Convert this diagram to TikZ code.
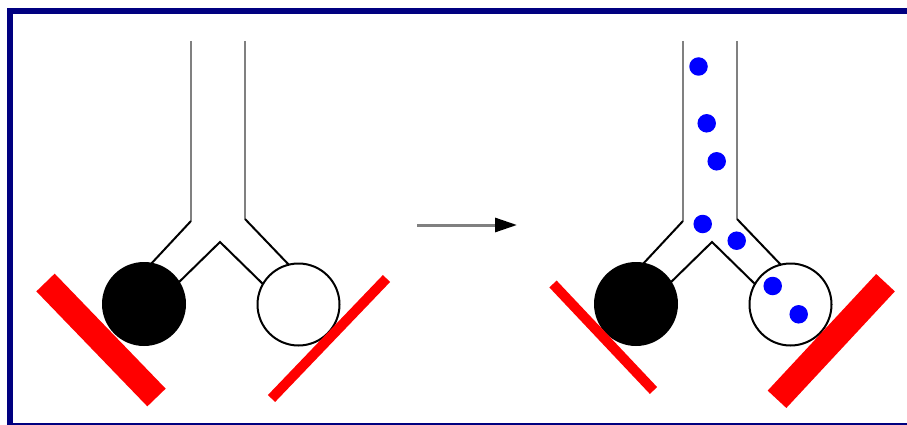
\documentclass[tikz,border=0pt]{standalone}
\usetikzlibrary{arrows.meta}
\definecolor{framenavy}{RGB}{0,0,128}
\begin{document}
\begin{tikzpicture}[x=1pt,y=-1pt,
  wall/.style={draw=black!50, line width=2.6pt},
  edge/.style={draw=black, line width=2pt},
  bead/.style={circle, fill=blue, inner sep=0pt, minimum size=18.5pt},
  thinpad/.style={draw=red, line width=10pt},
  thickpad/.style={draw=red, line width=25.5pt},
  fullbulb/.style={circle, fill=black, inner sep=0pt, minimum size=84pt},
  emptybulb/.style={circle, draw=black, fill=white, line width=2pt, inner sep=0pt, minimum size=82pt},
]
\useasboundingbox (0,0) rectangle (907,425);
\fill[white] (0,0) rectangle (907,425);

% outer frame, open on the right and bottom
\begin{scope}
  \clip (0,0) rectangle (907,425);
  \draw[framenavy, line width=6pt] (10,11) rectangle (960,426);
\end{scope}

% ---- Y tube before ----
\draw[wall] (191,41) -- (191,221);
\draw[wall] (245,41) -- (245,219);
\draw[edge] (191,221) -- (150,265);
\draw[edge] (175,286) -- (220,242) -- (266,287);
\draw[edge] (245,219) -- (290,266);
\node[fullbulb]  (bulbAL) at (144,304) {};
\node[emptybulb] (bulbAR) at (298.5,304.5) {};
\draw[thickpad] (45.5,282.5) -- (156.5,397.5);
\draw[thinpad]  (271.5,398.5) -- (386.5,278.5);

% ---- reaction arrow ----
\coordinate (arrS) at (417,225);
\coordinate (arrE) at (517,225);
\draw[draw=black!50, line width=3pt, -{Triangle[length=22pt,width=14pt,color=black]}] (arrS) -- (arrE);

% ---- Y tube after ----
\begin{scope}[xshift=492]
  \draw[wall] (191,41) -- (191,221);
  \draw[wall] (245,41) -- (245,219);
  \draw[edge] (191,221) -- (150,265);
  \draw[edge] (175,286) -- (220,242) -- (266,287);
  \draw[edge] (245,219) -- (290,266);
  \node[fullbulb]  (bulbBL) at (144,304) {};
  \node[emptybulb] (bulbBR) at (298.5,304.5) {};
\end{scope}
\draw[thinpad]  (553,284) -- (653.5,390.5);
\draw[thickpad] (885.5,282.7) -- (777,399.3);

% particles moving into the right bulb
\node[bead] (p1) at (698.5,66.5) {};
\node[bead] (p2) at (706.7,123.3) {};
\node[bead] (p3) at (716.7,161.3) {};
\node[bead] (p4) at (702.7,224) {};
\node[bead] (p5) at (736.7,240.7) {};
\node[bead] (p6) at (772.7,286) {};
\node[bead] (p7) at (798.7,314.3) {};
\end{tikzpicture}
\end{document}
